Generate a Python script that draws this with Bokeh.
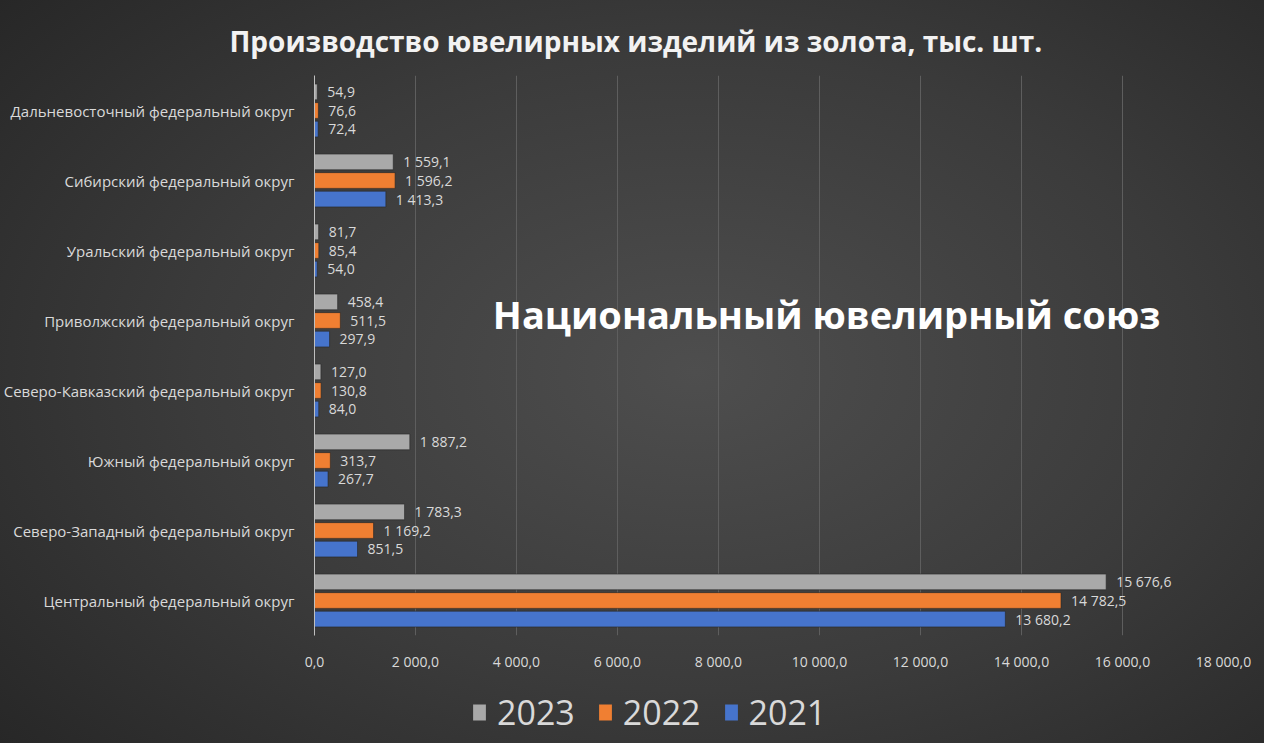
from bokeh.plotting import figure
from bokeh.models import (ColumnDataSource, FactorRange, FixedTicker, CustomJSTickFormatter,
                          Legend, LegendItem, Label, Range1d)
from bokeh.layouts import column
from bokeh.transform import dodge
from bokeh.core.properties import value
from bokeh.embed import file_html
from bokeh.resources import INLINE

# ---------------- data ----------------
categories = [
    "Дальневосточный федеральный округ",
    "Сибирский федеральный округ",
    "Уральский федеральный округ",
    "Приволжский федеральный округ",
    "Северо-Кавказский федеральный округ",
    "Южный федеральный округ",
    "Северо-Западный федеральный округ",
    "Центральный федеральный округ",
]
v2023 = [54.9, 1559.1, 81.7, 458.4, 127.0, 1887.2, 1783.3, 15676.6]
v2022 = [76.6, 1596.2, 85.4, 511.5, 130.8, 313.7, 1169.2, 14782.5]
v2021 = [72.4, 1413.3, 54.0, 297.9, 84.0, 267.7, 851.5, 13680.2]
x_ticks = [0, 2000, 4000, 6000, 8000, 10000, 12000, 14000, 16000, 18000]
title_text = "Производство ювелирных изделий из золота, тыс. шт."
watermark = "Национальный ювелирный союз"


def fmt(v):
    s = f"{v:,.1f}".replace(",", " ").replace(".", ",")
    return s


FONT = "Open Sans"
LABEL_COLOR = "#d9d9d9"

src = ColumnDataSource(dict(
    cat=categories,
    v2023=v2023, v2022=v2022, v2021=v2021,
    l2023=[fmt(v) for v in v2023],
    l2022=[fmt(v) for v in v2022],
    l2021=[fmt(v) for v in v2021],
))

p = figure(
    width=1264, height=673,
    y_range=FactorRange(factors=categories[::-1]),
    x_range=(0, 18000),
    output_backend="svg", toolbar_location=None,
    min_border_left=314, min_border_right=41, min_border_top=75, min_border_bottom=30,
)
p.border_fill_color = None
p.background_fill_color = None
p.outline_line_color = None

p.title.text = title_text
p.title.align = "left"
p.title.text_font = FONT
p.title.text_font_size = "28px"
p.title.text_font_style = "bold"
p.title.text_color = "#f2f2f2"
p.title.offset = -85
p.title.standoff = 31

series = [
    ("2023", "v2023", "l2023", 0.265, "#a9a9a9"),
    ("2022", "v2022", "l2022", 0.0, "#f07f32"),
    ("2021", "v2021", "l2021", -0.265, "#4674cc"),
]
for name, col, lcol, off, color in series:
    yy = dodge("cat", off, range=p.y_range)
    p.hbar(y=yy, right=col, left=0, height=0.225, source=src,
           fill_color=color, line_color="#262626", line_alpha=0.6, line_width=1)
    p.text(x=col, y=yy, text=lcol, source=src, x_offset=10,
           text_font=value(FONT), text_font_size="14px", text_color=LABEL_COLOR,
           text_baseline="middle", text_align="left")

# axes
p.xaxis.ticker = FixedTicker(ticks=x_ticks)
p.xaxis.formatter = CustomJSTickFormatter(code="""
    return tick.toFixed(1).replace('.', ',').replace(/\\B(?=(\\d{3})+(?!\\d))/g, ' ');
""")
p.xaxis.axis_line_color = None
p.xaxis.major_tick_line_color = None
p.xaxis.minor_tick_line_color = None
p.xaxis.major_label_text_font = FONT
p.xaxis.major_label_text_font_size = "14px"
p.xaxis.major_label_text_color = LABEL_COLOR
p.xaxis.major_label_standoff = 10

p.yaxis.axis_line_color = "#bfbfbf"
p.yaxis.axis_line_width = 1
p.yaxis.major_tick_line_color = None
p.yaxis.minor_tick_line_color = None
p.yaxis.major_label_text_font = FONT
p.yaxis.major_label_text_font_size = "15px"
p.yaxis.major_label_text_color = LABEL_COLOR
p.yaxis.major_label_standoff = 14

p.xgrid.grid_line_color = "#5e5e5e"
p.xgrid.grid_line_width = 1
p.ygrid.grid_line_color = None

# watermark
p.add_layout(Label(x=10140, y=4.6, text=watermark, text_font=FONT, text_font_size="38px",
                   text_font_style="bold", text_color="#ffffff",
                   text_align="center", text_baseline="middle"))

# ---------------- legend strip ----------------
lf = figure(
    width=1264, height=70,
    y_range=FactorRange(factors=categories[::-1]),
    x_range=Range1d(-2, -1),
    output_backend="svg", toolbar_location=None,
    x_axis_location=None, y_axis_location=None,
    min_border=0,
)
lf.border_fill_color = None
lf.background_fill_color = None
lf.outline_line_color = None
lf.xgrid.visible = False
lf.ygrid.visible = False

items = []
for name, col, lcol, off, color in series:
    r = lf.hbar(y="cat", right=col, left=0, height=0, source=src,
                fill_color=color, line_color=None)
    items.append(LegendItem(label=name, renderers=[r]))

legend = Legend(items=items, orientation="horizontal", location=(157, 8),
                label_text_font=FONT, label_text_font_size="34px",
                label_text_color=LABEL_COLOR, glyph_width=16, glyph_height=20,
                spacing=22, label_standoff=10, background_fill_alpha=0,
                border_line_color=None, margin=0, padding=0)
lf.add_layout(legend, "center")

page = column(p, lf, spacing=0,
              styles={"background": "radial-gradient(ellipse 72% 78% at 55% 50%, #4e4e4e 0%, #3b3b3b 55%, #272727 100%)"})

open("out.html", "w").write(file_html(page, INLINE))
